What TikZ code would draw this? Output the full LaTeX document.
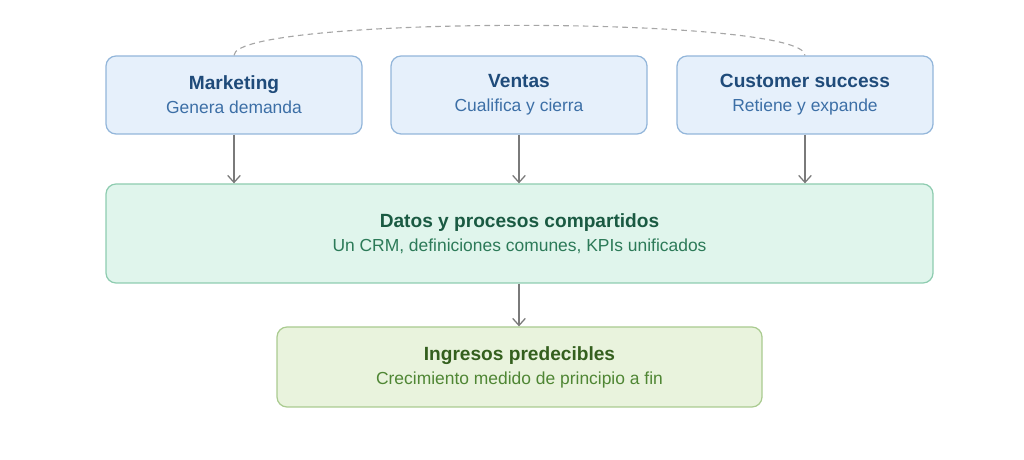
\documentclass[tikz,border=0pt]{standalone}
\usepackage{fontspec}
\setmainfont{Liberation Sans}
\usepackage{tikz}
\usetikzlibrary{shapes,arrows.meta,calc}
\definecolor{bleufond}{HTML}{E6F0FB}
\definecolor{bleubord}{HTML}{93B6DA}
\definecolor{bleutitre}{HTML}{1F4B7A}
\definecolor{bleutexte}{HTML}{3C6FA6}
\definecolor{vertfond}{HTML}{E0F5EC}
\definecolor{vertbord}{HTML}{8ECCB0}
\definecolor{verttitre}{HTML}{1A5A42}
\definecolor{verttexte}{HTML}{2C7A58}
\definecolor{olivefond}{HTML}{E9F3DD}
\definecolor{olivebord}{HTML}{AACB90}
\definecolor{olivetitre}{HTML}{345F1E}
\definecolor{olivetexte}{HTML}{4F8634}
\definecolor{fleche}{HTML}{7A7A7A}
\newcommand{\deuxlignes}[4]{%
  {\color{#1}\fontsize{13.6}{16}\selectfont\bfseries #2}\\[5pt]
  {\color{#3}\fontsize{12.4}{14}\selectfont #4}}

\begin{document}
\begin{tikzpicture}
  \useasboundingbox (0,0) rectangle (25.6,-11.5);
  \coordinate (M) at (5.85,-2.375);
  \coordinate (V) at (12.975,-2.375);
  \coordinate (C) at (20.125,-2.375);
  \coordinate (D) at (12.9875,-5.8375);
  \coordinate (I) at (12.9875,-9.175);

  \node[
    rectangle,
    rounded corners=0.25cm,
    minimum width=6.4cm,
    minimum height=1.95cm,
    align=center,
    fill=bleufond,
    draw=bleubord,
    line width=0.9pt] at (M) (mkt) {\deuxlignes{bleutitre}{Marketing}{bleutexte}{Genera demanda}};
  \node[
    rectangle,
    rounded corners=0.25cm,
    minimum width=6.4cm,
    minimum height=1.95cm,
    align=center,
    fill=bleufond,
    draw=bleubord,
    line width=0.9pt] at (V) (ventas) {\deuxlignes{bleutitre}{Ventas}{bleutexte}{Cualifica y cierra}};
  \node[
    rectangle,
    rounded corners=0.25cm,
    minimum width=6.4cm,
    minimum height=1.95cm,
    align=center,
    fill=bleufond,
    draw=bleubord,
    line width=0.9pt] at (C) (cs) {\deuxlignes{bleutitre}{Customer success}{bleutexte}{Retiene y expande}};

  \node[
    rectangle,
    rounded corners=0.25cm,
    minimum width=20.675cm,
    minimum height=2.475cm,
    align=center,
    fill=vertfond,
    draw=vertbord,
    line width=0.9pt] at (D) (datos) {\deuxlignes{verttitre}{Datos y procesos compartidos}{verttexte}{Un CRM, definiciones comunes, KPIs unificados}};

  \node[
    rectangle,
    rounded corners=0.25cm,
    minimum width=12.125cm,
    minimum height=2cm,
    align=center,
    fill=olivefond,
    draw=olivebord,
    line width=0.9pt] at (I) (ingresos) {\deuxlignes{olivetitre}{Ingresos predecibles}{olivetexte}{Crecimiento medido de principio a fin}};

  \draw[-{Straight Barb[length=5pt,width=9pt]},fleche,line width=0.9pt] (mkt.south) -- (mkt.south |- datos.north);
  \draw[-{Straight Barb[length=5pt,width=9pt]},fleche,line width=0.9pt] (ventas.south) -- (ventas.south |- datos.north);
  \draw[-{Straight Barb[length=5pt,width=9pt]},fleche,line width=0.9pt] (cs.south) -- (cs.south |- datos.north);
  \draw[-{Straight Barb[length=5pt,width=9pt]},fleche,line width=0.9pt] (datos.south -| ventas.south) -- (ingresos.north -| ventas.south);

  \draw[gray!70,line width=0.8pt,dash pattern=on 4pt off 3pt]
    (mkt.north) .. controls +(0,1.0) and +(0,1.0) .. (cs.north);

\end{tikzpicture}
\end{document}
